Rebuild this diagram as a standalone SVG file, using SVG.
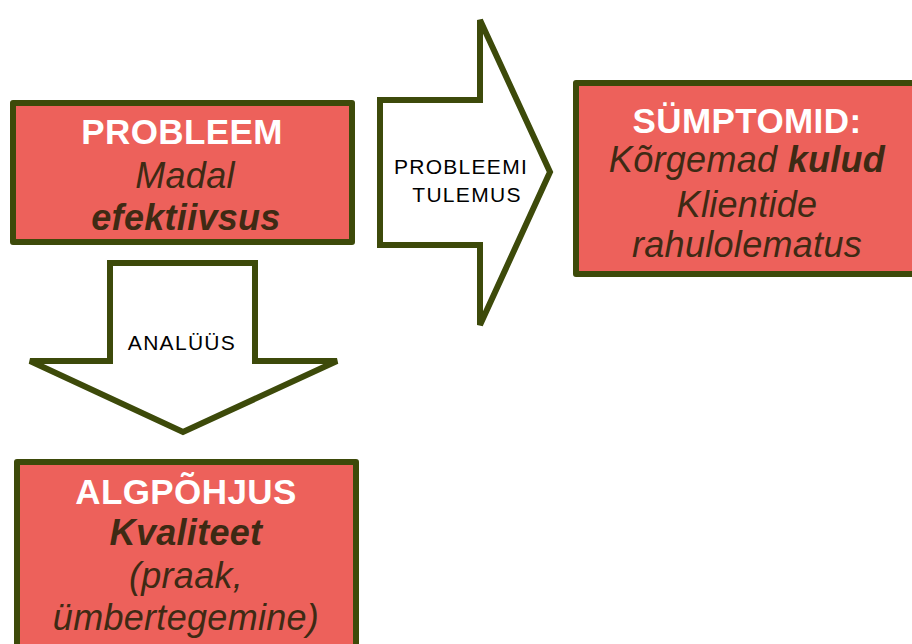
<svg xmlns="http://www.w3.org/2000/svg" width="912" height="644" viewBox="0 0 912 644">
<style>
.box{fill:#ed615b;stroke:#3d4a0a;stroke-width:6;stroke-linejoin:round}
.arr{fill:#ffffff;stroke:#3d4a0a;stroke-width:6;stroke-linejoin:miter}
text{font-family:"Liberation Sans",Arial,sans-serif;text-anchor:middle}
.h{fill:#ffffff;font-weight:bold;font-size:35px;letter-spacing:0.4px}
.t{fill:#3e2a14;font-style:italic;font-size:36px;letter-spacing:0.3px}
.b{font-weight:bold}
.s{fill:#000000;font-size:21px;letter-spacing:1.3px}
</style>
<rect width="912" height="644" fill="#ffffff"/>
<g id="connectors">
<g id="arrow-tulemus">
<polygon class="arr" points="380,100 480,100 480,20 550,172 480,325 480,245 380,245"/>
<text class="s" x="461" y="174">PROBLEEMI</text>
<text class="s" x="467" y="202">TULEMUS</text>
</g>
<g id="arrow-analuus">
<polygon class="arr" points="110,263 255,263 255,361 337,361 183,432 30,361 110,361"/>
<text class="s" x="182" y="350">ANALÜÜS</text>
</g>
</g>
<g id="node-probleem">
<rect class="box" x="13" y="103" width="339" height="139"/>
<text class="h" x="182" y="144">PROBLEEM</text>
<text class="t" x="185" y="188">Madal</text>
<text class="t b" x="186" y="230">efektiivsus</text>
</g>
<g id="node-symptomid">
<rect class="box" x="576" y="83" width="345" height="191"/>
<text class="h" x="747" y="133">SÜMPTOMID:</text>
<text class="t" x="747" y="172">Kõrgemad <tspan class="b">kulud</tspan></text>
<text class="t" x="747" y="217">Klientide</text>
<text class="t" x="747" y="257">rahulolematus</text>
</g>
<g id="node-algpohjus">
<rect class="box" x="17" y="462" width="339" height="200"/>
<text class="h" x="186" y="504">ALGPÕHJUS</text>
<text class="t b" x="186" y="545">Kvaliteet</text>
<text class="t" x="186" y="588">(praak,</text>
<text class="t" x="186" y="630">ümbertegemine)</text>
</g>
</svg>
